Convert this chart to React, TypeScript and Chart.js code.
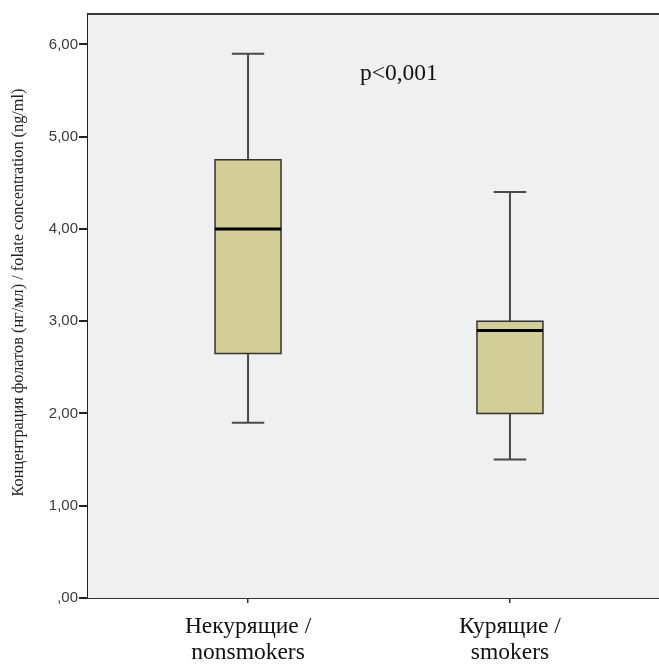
import React, { useEffect, useRef } from "react";
import { Chart, registerables } from "chart.js";
Chart.register(...registerables);

// ---- data ----
const CATEGORIES: string[][] = [["Некурящие /", "nonsmokers"], ["Курящие /", "smokers"]];
const CATEGORY_X = [1, 2];
const WHISKER_MIN = [1.9, 1.5];
const Q1 = [2.65, 2.0];
const MEDIAN = [4.0, 2.9];
const Q3 = [4.75, 3.0];
const WHISKER_MAX = [5.9, 4.4];
const Y_TICKS = [0, 1, 2, 3, 4, 5, 6];
const Y_TITLE = "Концентрация фолатов (нг/мл) / folate concentration (ng/ml)";
const P_TEXT = "p<0,001";
const P_POS = { x: 1.576, y: 5.62 };

const BOX_WIDTH = 0.252;
const CAP_WIDTH = 0.124;

export default function App() {
  const ref = useRef<HTMLCanvasElement>(null);
  useEffect(() => {
    document.body.style.margin = "0";
    const boxPlugin = {
      id: "boxes",
      beforeDatasetsDraw(chart: any) {
        const { ctx, chartArea: a } = chart;
        ctx.save();
        ctx.fillStyle = "#f0f0f0";
        ctx.fillRect(a.left, a.top, a.right - a.left, a.bottom - a.top);
        ctx.restore();
      },
      afterDatasetsDraw(chart: any) {
        const { ctx, chartArea: a } = chart;
        const xs = chart.scales.x;
        const ys = chart.scales.y;
        ctx.save();
        CATEGORY_X.forEach((cx, i) => {
          const xc = xs.getPixelForValue(cx);
          const xl = xs.getPixelForValue(cx - BOX_WIDTH / 2);
          const xr = xs.getPixelForValue(cx + BOX_WIDTH / 2);
          const cl = xs.getPixelForValue(cx - CAP_WIDTH / 2);
          const cr = xs.getPixelForValue(cx + CAP_WIDTH / 2);
          const yMin = ys.getPixelForValue(WHISKER_MIN[i]);
          const yMax = ys.getPixelForValue(WHISKER_MAX[i]);
          const yQ1 = ys.getPixelForValue(Q1[i]);
          const yQ3 = ys.getPixelForValue(Q3[i]);
          const yMed = ys.getPixelForValue(MEDIAN[i]);
          // whiskers
          ctx.strokeStyle = "#4a4a4a";
          ctx.lineWidth = 2;
          ctx.beginPath();
          ctx.moveTo(xc, yMax); ctx.lineTo(xc, yQ3);
          ctx.moveTo(xc, yQ1); ctx.lineTo(xc, yMin);
          ctx.moveTo(cl, yMax); ctx.lineTo(cr, yMax);
          ctx.moveTo(cl, yMin); ctx.lineTo(cr, yMin);
          ctx.stroke();
          // box
          ctx.fillStyle = "#d3ce97";
          ctx.fillRect(xl, yQ3, xr - xl, yQ1 - yQ3);
          ctx.strokeStyle = "#333333";
          ctx.lineWidth = 1.5;
          ctx.strokeRect(xl, yQ3, xr - xl, yQ1 - yQ3);
          // median
          ctx.strokeStyle = "#000000";
          ctx.lineWidth = 3;
          ctx.beginPath();
          ctx.moveTo(xl, yMed); ctx.lineTo(xr, yMed);
          ctx.stroke();
        });
        // p text
        ctx.fillStyle = "#111";
        ctx.font = "23.5px 'Liberation Serif', serif";
        ctx.textAlign = "center";
        ctx.textBaseline = "alphabetic";
        ctx.fillText(P_TEXT, xs.getPixelForValue(P_POS.x), ys.getPixelForValue(P_POS.y));
        // top border
        ctx.strokeStyle = "#3a3a3a";
        ctx.lineWidth = 2;
        ctx.beginPath();
        ctx.moveTo(a.left, a.top);
        ctx.lineTo(a.right, a.top);
        ctx.stroke();
        ctx.restore();
      },
      afterDraw(chart: any) {
        const { ctx } = chart;
        ctx.save();
        ctx.translate(19, 292.5);
        ctx.rotate(-Math.PI / 2);
        ctx.fillStyle = "#222";
        ctx.font = "16.3px 'Liberation Serif', serif";
        ctx.textAlign = "center";
        ctx.textBaseline = "middle";
        ctx.fillText(Y_TITLE, 0, 0);
        ctx.restore();
      },
    };

    const chart = new Chart(ref.current as HTMLCanvasElement, {
      type: "scatter",
      data: {
        datasets: [
          {
            data: CATEGORY_X.map((x, i) => ({ x, y: MEDIAN[i] })),
            pointRadius: 0,
            showLine: false,
          },
        ],
      },
      options: {
        animation: false,
        responsive: false,
        layout: { padding: { top: 14, left: 0, right: 0, bottom: 0 } },
        plugins: { legend: { display: false }, tooltip: { enabled: false } },
        scales: {
          x: {
            type: "linear",
            min: 0.389,
            max: 2.569,
            afterBuildTicks: (axis: any) => {
              axis.ticks = CATEGORY_X.map((v) => ({ value: v }));
            },
            afterFit: (axis: any) => {
              axis.height = 66;
            },
            ticks: {
              callback: (v: any) => {
                const idx = CATEGORY_X.indexOf(Number(v));
                return idx >= 0 ? CATEGORIES[idx] : "";
              },
              font: { family: "'Liberation Serif', serif", size: 23.5, lineHeight: 1.1 },
              color: "#111",
              padding: 11,
              maxRotation: 0,
              autoSkip: false,
            },
            grid: {
              drawOnChartArea: false,
              drawTicks: true,
              tickLength: 5,
              color: "#333",
              lineWidth: 1.5,
            },
            border: { display: true, color: "#333", width: 2 },
          },
          y: {
            type: "linear",
            min: 0,
            max: 6.33,
            afterBuildTicks: (axis: any) => {
              axis.ticks = Y_TICKS.map((v) => ({ value: v }));
            },
            afterFit: (axis: any) => {
              axis.width = 88;
            },
            ticks: {
              callback: (v: any) => {
                const s = Number(v).toFixed(2).replace(".", ",");
                return s.startsWith("0,") ? s.slice(1) : s;
              },
              font: { family: "'Liberation Sans', Arial, sans-serif", size: 15 },
              color: "#3a3a3a",
              padding: 1,
            },
            grid: {
              drawOnChartArea: false,
              drawTicks: true,
              tickLength: 9,
              color: "#222",
              lineWidth: 2,
            },
            border: { display: true, color: "#222", width: 2 },
          },
        },
      },
      plugins: [boxPlugin],
    } as any);
    return () => chart.destroy();
  }, []);
  return (
    <div style={{ width: 659, height: 664 }}>
      <canvas ref={ref} width={659} height={664} style={{ display: "block" }} />
    </div>
  );
}
